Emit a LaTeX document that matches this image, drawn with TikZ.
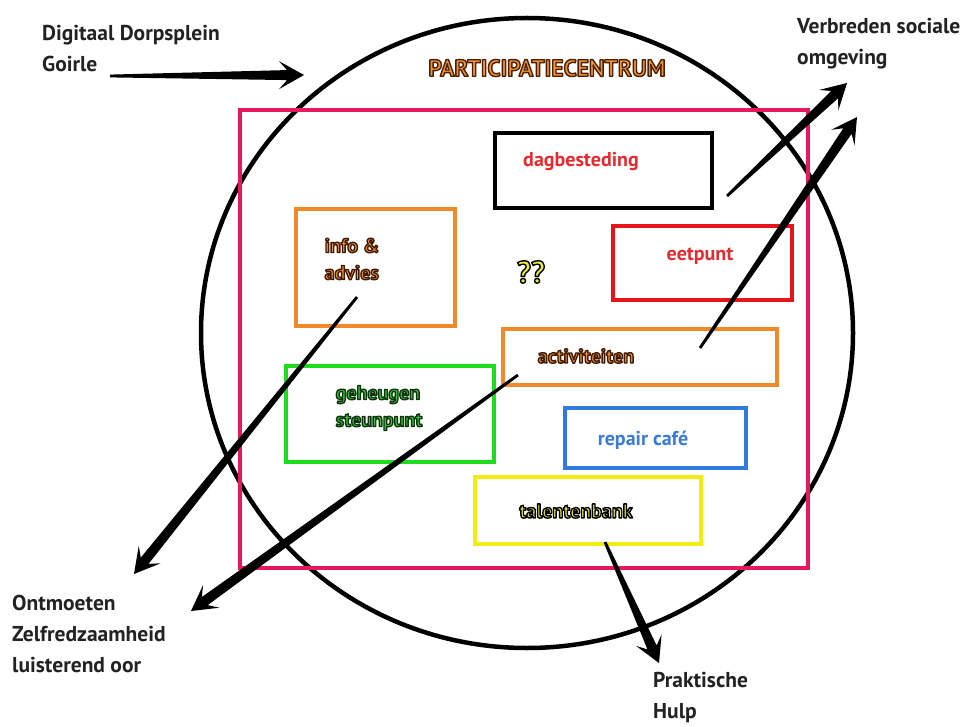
\documentclass[tikz,border=0pt]{standalone}
\usepackage{fontspec}
\usetikzlibrary{calc,shapes.geometric}
\setmainfont{PT Sans}
\definecolor{pinkred}{HTML}{E8185E}
\definecolor{boxorange}{HTML}{F0892A}
\definecolor{boxgreen}{HTML}{1EDC1E}
\definecolor{boxred}{HTML}{E8141C}
\definecolor{boxblue}{HTML}{2F7BE0}
\definecolor{boxyellow}{HTML}{F4EC10}
\definecolor{txtorange}{HTML}{F09535}
\definecolor{txtgreen}{HTML}{38CC38}
\definecolor{txtred}{HTML}{E52A30}
\definecolor{txtblue}{HTML}{3A7BD5}
\definecolor{txtyellow}{HTML}{EDEA35}
\definecolor{lbl}{HTML}{222222}
% #1 = stroke colour as PDF rgb triple, #2 = fill colour name, #3 = text
\newcommand\outl[3]{\textcolor{#2}{\special{pdf:literal direct 2 Tr 1.4 w 1 j #1 RG}#3\special{pdf:literal direct 0 Tr}}}
\newcommand\tarrow[2]{%
  \fill[black] ($(#1)!1.4pt!90:(#2)$) -- ($(#2)!17pt!(#1)!5pt!-90:(#1)$)
   -- ($(#2)!25pt!(#1)!14pt!-90:(#1)$) -- (#2)
   -- ($(#2)!25pt!(#1)!14pt!90:(#1)$) -- ($(#2)!17pt!(#1)!5pt!90:(#1)$)
   -- ($(#1)!1.4pt!-90:(#2)$) -- cycle;}
\tikzset{
  boxnode/.style={draw=#1, line width=4.5, rectangle, inner sep=0},
  lbltext/.style={text=lbl, font=\bfseries\fontsize{21.5}{31}\selectfont, align=left, inner sep=0, anchor=north west},
  boxtext/.style={font=\bfseries\fontsize{20}{27}\selectfont, align=left, inner sep=0},
}
\begin{document}
\begin{tikzpicture}[x=1pt,y=-1pt]
\useasboundingbox[fill=white] (0,0) rectangle (977,727);
% big ellipse and frame
\node[ellipse, draw=black, line width=4.5, minimum width=652, minimum height=630, inner sep=0] (circ) at (527,333) {};
\node[boxnode=pinkred, minimum width=568, minimum height=458] (frame) at (524,339) {};
% boxes
\node[boxnode=black, minimum width=217, minimum height=75] (dag) at (603.5,170.5) {};
\node[boxnode=boxred, minimum width=179, minimum height=74] (eet) at (702.5,263) {};
\node[boxnode=boxorange, minimum width=159, minimum height=117] (info) at (375.5,267.5) {};
\node[boxnode=boxorange, minimum width=274, minimum height=56] (act) at (640,357) {};
\node[boxnode=boxgreen, minimum width=208, minimum height=96] (geh) at (390,414) {};
\node[boxnode=boxblue, minimum width=181, minimum height=60] (rep) at (655.5,438) {};
\node[boxnode=boxyellow, minimum width=226, minimum height=67] (tal) at (588,510.5) {};
% texts in boxes
\node[boxtext, font=\bfseries\fontsize{23.5}{27}\selectfont] (title) at (547,68) {\outl{0.3 0.12 0}{txtorange}{PARTICIPATIECENTRUM}};
\node[boxtext, text=txtred] (dagt) at (581,162) {dagbesteding};
\node[boxtext, text=txtred] (eett) at (700,256) {eetpunt};
\node[boxtext] (infot) at (352,259) {\outl{0.25 0.1 0}{txtorange}{info \&}\\\outl{0.25 0.1 0}{txtorange}{advies}};
\node[boxtext, font=\bfseries\fontsize{31}{31}\selectfont] (qq) at (531,272) {\outl{0 0 0}{txtyellow}{??}};
\node[boxtext] (actt) at (586,356) {\outl{0.25 0.1 0}{txtorange}{activiteiten}};
\node[boxtext] (geht) at (379,408) {\outl{0.05 0.2 0.05}{txtgreen}{geheugen}\\\outl{0.05 0.2 0.05}{txtgreen}{steunpunt}};
\node[boxtext, text=txtblue] (rept) at (643,440) {repair café};
\node[boxtext] (talt) at (576,511) {\outl{0 0 0}{txtyellow}{talentenbank}};
% outside labels
\node[lbltext] (dorp) at (42,25) {Digitaal Dorpsplein\\Goirle};
\node[lbltext] (verb) at (797,18) {Verbreden sociale\\omgeving};
\node[lbltext] (ontm) at (12,595) {Ontmoeten\\Zelfredzaamheid\\luisterend oor};
\node[lbltext] (prak) at (653,672) {Praktische\\Hulp};
% arrow end points
\coordinate (gA) at (110,76);  \coordinate (gB) at (304,75);
\coordinate (v1A) at (727,196); \coordinate (v1B) at (847,83);
\coordinate (v2A) at (700,348); \coordinate (v2B) at (857,117);
\coordinate (iA) at (357,297); \coordinate (iB) at (134,574);
\coordinate (aA) at (518,375); \coordinate (aB) at (191,611);
\coordinate (tA) at (605,542); \coordinate (tB) at (659,663);
\tarrow{gA}{gB}
\tarrow{v1A}{v1B}
\tarrow{v2A}{v2B}
\tarrow{iA}{iB}
\tarrow{aA}{aB}
\tarrow{tA}{tB}
\end{tikzpicture}
\end{document}
